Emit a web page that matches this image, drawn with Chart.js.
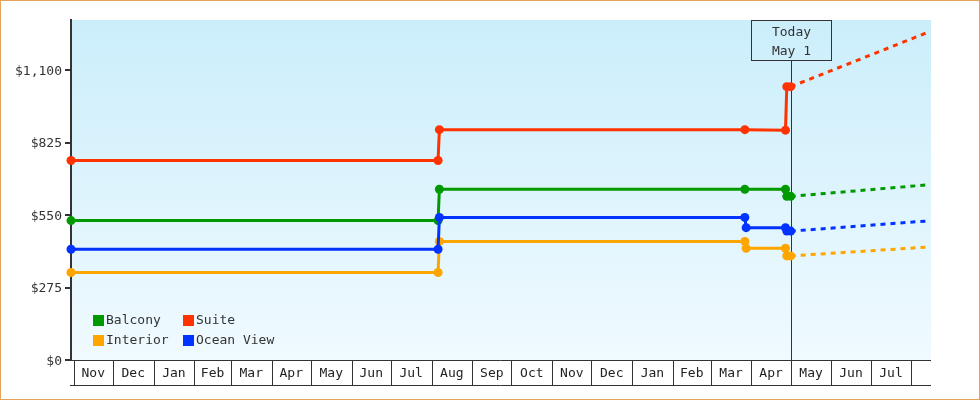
<!DOCTYPE html>
<html>
<head>
<meta charset="utf-8">
<script src="https://cdn.jsdelivr.net/npm/chart.js@4"></script>
<style>
  html, body { margin: 0; padding: 0; background: #fff; }
  #wrap { width: 980px; height: 400px; position: relative; }
</style>
</head>
<body>
<div id="wrap"><canvas id="fare-chart"></canvas></div>
<script>
// timeline
const startDate = '2022-10-30';
const endDate = '2024-08-16';
const todayDate = '2024-05-01';
const todayLabel = ['Today', 'May 1'];

const monthLabels = ['Nov', 'Dec', 'Jan', 'Feb', 'Mar', 'Apr', 'May', 'Jun', 'Jul', 'Aug', 'Sep',
  'Oct', 'Nov', 'Dec', 'Jan', 'Feb', 'Mar', 'Apr', 'May', 'Jun', 'Jul'];
const monthStarts = ['2022-11-01', '2022-12-01', '2023-01-01', '2023-02-01', '2023-03-01', '2023-04-01',
  '2023-05-01', '2023-06-01', '2023-07-01', '2023-08-01', '2023-09-01', '2023-10-01', '2023-11-01',
  '2023-12-01', '2024-01-01', '2024-02-01', '2024-03-01', '2024-04-01', '2024-05-01', '2024-06-01',
  '2024-07-01', '2024-08-01'];

const yTicks = [0, 275, 550, 825, 1100];

// price history
const twoStepDates = ['2022-10-30', '2023-08-06', '2023-08-07', '2024-03-27', '2024-04-27', '2024-04-28', '2024-05-01'];
const threeStepDates = ['2022-10-30', '2023-08-06', '2023-08-07', '2024-03-27', '2024-03-28', '2024-04-27', '2024-04-28', '2024-05-01'];
const balconyPrices = [529, 529, 648, 648, 648, 621, 621];
const suitePrices = [757, 757, 874, 874, 872, 1037, 1037];
const interiorPrices = [332, 332, 450, 450, 424, 424, 395, 395];
const oceanPrices = [420, 420, 541, 541, 502, 502, 489, 489];

// forecast
const forecastDates = ['2024-05-01', '2024-08-12'];
const balconyForecast = [621, 664];
const suiteForecast = [1037, 1240];
const interiorForecast = [395, 428];
const oceanForecast = [489, 527];

const GREEN = '#009900', RED = '#ff3300', ORANGE = '#ffa500', BLUE = '#0033ff';
const FONT = "'DejaVu Sans Mono', monospace";

function dayNum(s) {
  const a = s.split('-').map(Number);
  const b = startDate.split('-').map(Number);
  return (Date.UTC(a[0], a[1] - 1, a[2]) - Date.UTC(b[0], b[1] - 1, b[2])) / 86400000;
}

function points(dates, values) {
  return dates.map((d, i) => ({ x: dayNum(d), y: values[i] }));
}

function history(label, color, dates, values) {
  return {
    label: label,
    data: points(dates, values),
    borderColor: color,
    backgroundColor: color,
    borderWidth: 3,
    pointStyle: 'circle',
    pointRadius: 4.5,
    pointBorderWidth: 0,
    clip: false,
  };
}

function forecast(color, values) {
  return {
    label: '',
    data: points(forecastDates, values),
    borderColor: color,
    borderWidth: 3,
    borderDash: [5, 5],
    pointRadius: 0,
    clip: false,
  };
}

const datasets = [
  history('Ocean View', BLUE, threeStepDates, oceanPrices),
  history('Balcony', GREEN, twoStepDates, balconyPrices),
  history('Suite', RED, twoStepDates, suitePrices),
  history('Interior', ORANGE, threeStepDates, interiorPrices),
  forecast(BLUE, oceanForecast),
  forecast(GREEN, balconyForecast),
  forecast(RED, suiteForecast),
  forecast(ORANGE, interiorForecast),
];

const legendOrder = ['Balcony', 'Suite', 'Interior', 'Ocean View'];

const decorPlugin = {
  id: 'decor',
  beforeDraw(chart) {
    const ctx = chart.ctx;
    const a = chart.chartArea;
    ctx.save();
    ctx.fillStyle = '#fff';
    ctx.fillRect(0, 0, chart.width, chart.height);
    const g = ctx.createLinearGradient(0, a.top, 0, a.bottom);
    g.addColorStop(0, '#cbeefb');
    g.addColorStop(1, '#f0faff');
    ctx.fillStyle = g;
    ctx.fillRect(a.left, a.top, a.right - a.left, a.bottom - a.top);
    ctx.strokeStyle = '#e8a35a';
    ctx.lineWidth = 1;
    ctx.strokeRect(0.5, 0.5, chart.width - 1, chart.height - 1);
    ctx.restore();
  },
  beforeDatasetsDraw(chart) {
    const ctx = chart.ctx;
    const a = chart.chartArea;
    const xs = chart.scales.x;
    const rowBottom = a.bottom + 25;
    ctx.save();
    ctx.strokeStyle = '#333';
    ctx.lineWidth = 1;
    // month row
    ctx.beginPath();
    ctx.moveTo(a.left - 1, Math.round(a.bottom) + 0.5);
    ctx.lineTo(a.right, Math.round(a.bottom) + 0.5);
    ctx.moveTo(a.left - 1, rowBottom + 0.5);
    ctx.lineTo(a.right, rowBottom + 0.5);
    monthStarts.forEach((d) => {
      const x = Math.round(xs.getPixelForValue(dayNum(d))) + 0.5;
      ctx.moveTo(x, a.bottom);
      ctx.lineTo(x, rowBottom);
    });
    ctx.stroke();
    ctx.fillStyle = '#222';
    ctx.font = '13px ' + FONT;
    ctx.textAlign = 'center';
    ctx.textBaseline = 'middle';
    monthLabels.forEach((m, i) => {
      const x0 = xs.getPixelForValue(dayNum(monthStarts[i]));
      const x1 = xs.getPixelForValue(dayNum(monthStarts[i + 1]));
      ctx.fillText(m, (x0 + x1) / 2, a.bottom + 14);
    });
    // today marker
    const tx = Math.round(xs.getPixelForValue(dayNum(todayDate))) + 0.5;
    const boxTop = a.top + 0.5;
    const boxH = 40;
    ctx.beginPath();
    ctx.moveTo(tx, boxTop + boxH);
    ctx.lineTo(tx, rowBottom);
    ctx.stroke();
    ctx.strokeRect(tx - 40, boxTop, 80, boxH);
    ctx.fillStyle = '#333';
    ctx.fillText(todayLabel[0], tx, a.top + 13);
    ctx.fillText(todayLabel[1], tx, a.top + 32);
    ctx.restore();
  },
  afterDatasetsDraw(chart) {
    const ctx = chart.ctx;
    const cols = [93, 183];
    const rows = [315, 335];
    ctx.save();
    ctx.font = '13px ' + FONT;
    ctx.textAlign = 'left';
    ctx.textBaseline = 'middle';
    legendOrder.forEach((name, i) => {
      const ds = chart.data.datasets.find((d) => d.label === name);
      const x = cols[i % 2];
      const y = rows[Math.floor(i / 2)];
      ctx.fillStyle = ds.borderColor;
      ctx.fillRect(x, y, 11, 11);
      ctx.fillStyle = '#333';
      ctx.fillText(name, x + 13, y + 6);
    });
    ctx.restore();
  },
};

new Chart(document.getElementById('fare-chart'), {
  type: 'line',
  data: { datasets: datasets },
  options: {
    animation: false,
    responsive: true,
    maintainAspectRatio: false,
    layout: { padding: { top: 20, right: 49, bottom: 40, left: 0 } },
    plugins: {
      legend: { display: false },
      tooltip: { enabled: false },
    },
    scales: {
      x: {
        type: 'linear',
        min: 0,
        max: dayNum(endDate),
        display: false,
      },
      y: {
        min: 0,
        max: 1290,
        afterFit: (s) => { s.width = 71; },
        afterBuildTicks: (s) => { s.ticks = yTicks.map((v) => ({ value: v })); },
        border: { display: true, color: '#333', width: 2 },
        grid: { drawOnChartArea: false, color: '#333', lineWidth: 2, tickLength: 6 },
        ticks: {
          color: '#333',
          padding: 3,
          labelOffset: 1.5,
          font: { family: FONT, size: 13 },
          callback: (v) => '$' + v.toLocaleString('en-US'),
        },
      },
    },
  },
  plugins: [decorPlugin],
});
</script>
</body>
</html>
